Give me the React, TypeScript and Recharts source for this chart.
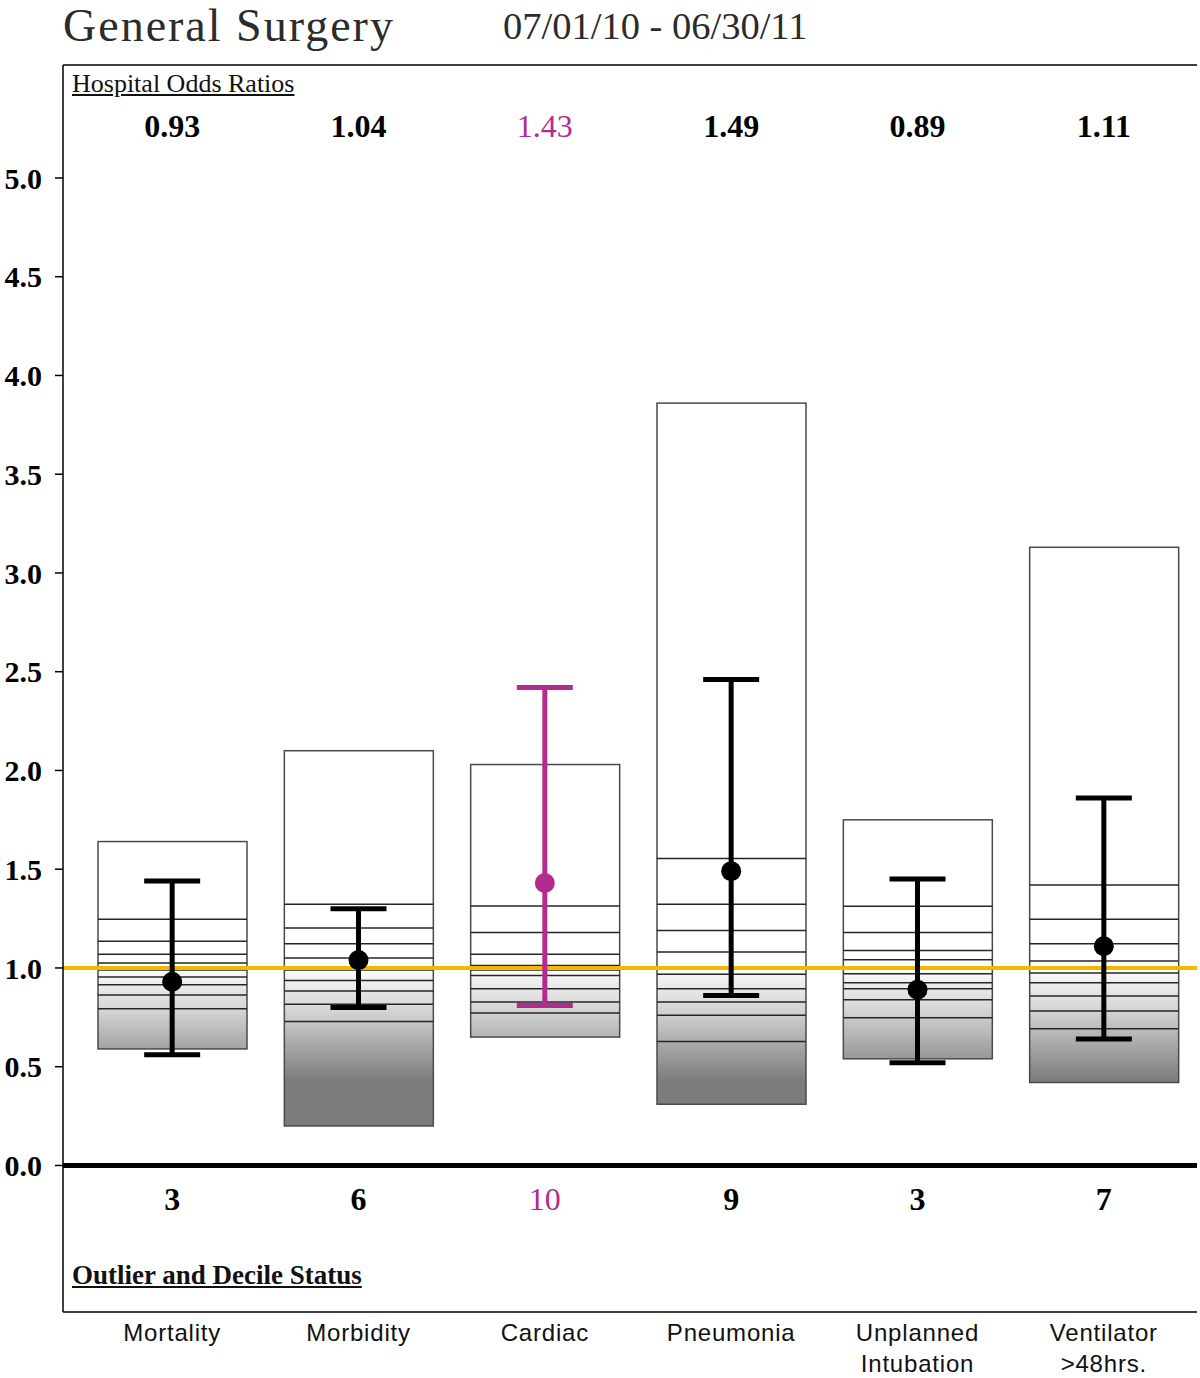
import {
    ComposedChart,
    Bar,
    Line,
    ErrorBar,
    XAxis,
    YAxis,
    ReferenceLine,
} from "recharts";

const categories = ["Mortality", "Morbidity", "Cardiac", "Pneumonia", "Unplanned Intubation", "Ventilator >48hrs."];
const categoryLines = [["Mortality"], ["Morbidity"], ["Cardiac"], ["Pneumonia"], ["Unplanned", "Intubation"], ["Ventilator", ">48hrs."]];

const oddsRatios = [0.93, 1.04, 1.43, 1.49, 0.89, 1.11];
const ciLow = [0.56, 0.8, 0.81, 0.86, 0.52, 0.64];
const ciHigh = [1.44, 1.3, 2.42, 2.46, 1.45, 1.86];

const boxLow = [0.59, 0.2, 0.65, 0.31, 0.54, 0.42];
const boxHigh = [1.64, 2.1, 2.03, 3.86, 1.75, 3.13];

const mortalityDeciles = [0.794, 0.863, 0.915, 0.954, 0.99, 1.025, 1.069, 1.135, 1.246];
const morbidityDeciles = [0.729, 0.816, 0.883, 0.937, 0.99, 1.05, 1.123, 1.202, 1.322];
const cardiacDeciles = [0.772, 0.828, 0.895, 0.962, 0.99, 1.013, 1.069, 1.179, 1.314];
const pneumoniaDeciles = [0.628, 0.76, 0.828, 0.895, 0.968, 1.081, 1.19, 1.322, 1.554];
const intubationDeciles = [0.748, 0.839, 0.895, 0.925, 0.971, 1.042, 1.089, 1.179, 1.312];
const ventilatorDeciles = [0.692, 0.782, 0.858, 0.925, 0.975, 1.035, 1.123, 1.246, 1.42];
const decileLines = [mortalityDeciles, morbidityDeciles, cardiacDeciles, pneumoniaDeciles, intubationDeciles, ventilatorDeciles];

const decileStatus = [3, 6, 10, 9, 3, 7];
const isOutlier = [false, false, true, false, false, false];

const yTicks = [0, 0.5, 1, 1.5, 2, 2.5, 3, 3.5, 4, 4.5, 5];

const SERIF = "'Liberation Serif', 'Times New Roman', serif";
const SANS = "'Liberation Sans', Arial, sans-serif";
const MAGENTA = "#b32b8f";
const ORANGE = "#f5b800";

const data = categories.map((name, i) => ({
    name,
    box: [boxLow[i], boxHigh[i]],
    deciles: decileLines[i],
    orNormal: isOutlier[i] ? null : oddsRatios[i],
    orOutlier: isOutlier[i] ? oddsRatios[i] : null,
    errNormal: isOutlier[i] ? null : [oddsRatios[i] - ciLow[i], ciHigh[i] - oddsRatios[i]],
    errOutlier: isOutlier[i] ? [oddsRatios[i] - ciLow[i], ciHigh[i] - oddsRatios[i]] : null,
}));

// gray shading runs from white at 1.0 down to dark gray at 0.43
const shadeTop = 1.0;
const shadeBottom = 0.43;

const BoxShape = (props: any) => {
    const { x, y, width, height, payload, index } = props;
    const [lo, hi] = payload.box;
    const top = Math.min(y, y + height);
    const h = Math.abs(height);
    const px = h / (hi - lo);
    const yOf = (v: number) => top + (hi - v) * px;
    const id = `boxShade${index}`;
    return (
        <g>
            <defs>
                <linearGradient id={id} gradientUnits="userSpaceOnUse" x1={0} x2={0} y1={yOf(shadeTop)} y2={yOf(shadeBottom)}>
                    <stop offset="0" stopColor="#ffffff" />
                    <stop offset="0.12" stopColor="#efefef" />
                    <stop offset="0.38" stopColor="#d4d4d4" />
                    <stop offset="0.7" stopColor="#a6a6a6" />
                    <stop offset="1" stopColor="#7c7c7c" />
                </linearGradient>
            </defs>
            <rect x={x} y={top} width={width} height={h} fill={`url(#${id})`} stroke="#4a4a4a" strokeWidth={1.5} />
            {payload.deciles.map((d: number) => (
                <line key={d} x1={x} x2={x + width} y1={yOf(d)} y2={yOf(d)} stroke="#262626" strokeWidth={1.5} />
            ))}
        </g>
    );
};

const BottomTick = (props: any) => {
    const { x, y, payload } = props;
    const i = categories.indexOf(payload.value);
    const out = isOutlier[i];
    return (
        <g>
            <text x={x} y={y - 102} textAnchor="middle" fontFamily={SERIF} fontSize={32}
                fontWeight={out ? "normal" : "bold"} fill={out ? MAGENTA : "#000"}>
                {decileStatus[i]}
            </text>
            {categoryLines[i].map((line, k) => (
                <text key={line} x={x} y={y + 29 + k * 31} textAnchor="middle" fontFamily={SANS}
                    fontSize={24} letterSpacing={0.8} fill="#111">
                    {line}
                </text>
            ))}
        </g>
    );
};

const TopTick = (props: any) => {
    const { x, y, payload } = props;
    const i = categories.indexOf(payload.value);
    const out = isOutlier[i];
    return (
        <text x={x} y={y + 72} textAnchor="middle" fontFamily={SERIF} fontSize={32}
            fontWeight={out ? "normal" : "bold"} fill={out ? MAGENTA : "#000"}>
            {oddsRatios[i].toFixed(2)}
        </text>
    );
};

const txt = (style: any) => ({ position: "absolute" as const, lineHeight: 1, whiteSpace: "nowrap" as const, ...style });

const App = () => {
    const domain = [-0.742, 5.572];
    return (
        <div style={{ position: "absolute", left: 0, top: 0, width: 1200, height: 1378, background: "#fff", overflow: "hidden" }}>
            <div style={txt({ left: 63, top: 3, fontFamily: SERIF, fontSize: 46, letterSpacing: 2, color: "#2b2b2b" })}>
                General Surgery
            </div>
            <div style={txt({ left: 503, top: 7, fontFamily: SERIF, fontSize: 38.5, color: "#2b2b2b" })}>
                07/01/10 - 06/30/11
            </div>

            <div style={{ position: "absolute", left: 0, top: 8 }}>
                <ComposedChart
                    width={1198}
                    height={1370}
                    data={data}
                    margin={{ top: 56, right: 1, bottom: 0, left: 8 }}
                >
                    <XAxis
                        dataKey="name"
                        height={66}
                        interval={0}
                        tickSize={0}
                        tickMargin={0}
                        padding={{ left: 16, right: 0 }}
                        tick={<BottomTick />}
                        axisLine={{ stroke: "#000", strokeWidth: 1.5 }}
                    />
                    <XAxis
                        xAxisId="top"
                        orientation="top"
                        dataKey="name"
                        height={1}
                        interval={0}
                        tickSize={0}
                        tickMargin={0}
                        padding={{ left: 16, right: 0 }}
                        tick={<TopTick />}
                        axisLine={{ stroke: "#000", strokeWidth: 1.5 }}
                    />
                    <YAxis
                        type="number"
                        width={55}
                        domain={domain}
                        ticks={yTicks}
                        allowDataOverflow
                        interval={0}
                        tickSize={8}
                        tickMargin={13}
                        tickFormatter={(v) => v.toFixed(1)}
                        tick={{ fontFamily: SERIF, fontSize: 30, fontWeight: "bold", fill: "#000" }}
                        tickLine={{ stroke: "#000", strokeWidth: 1.5 }}
                        axisLine={{ stroke: "#000", strokeWidth: 1.5 }}
                    />
                    <YAxis
                        yAxisId="r"
                        orientation="right"
                        type="number"
                        width={0}
                        domain={domain}
                        allowDataOverflow
                        tick={false}
                        tickLine={false}
                        axisLine={{ stroke: "#000", strokeWidth: 1.5 }}
                    />

                    <Bar dataKey="box" barSize={149} shape={<BoxShape />} isAnimationActive={false} />

                    <ReferenceLine y={1} stroke={ORANGE} strokeWidth={4} />
                    <ReferenceLine y={0} stroke="#000" strokeWidth={5} />

                    <Line
                        dataKey="orNormal"
                        stroke="none"
                        dot={{ r: 10, fill: "#000", stroke: "#000", strokeWidth: 0 }}
                        activeDot={false}
                        isAnimationActive={false}
                    >
                        <ErrorBar dataKey="errNormal" width={28} stroke="#000" strokeWidth={5} />
                    </Line>
                    <Line
                        dataKey="orOutlier"
                        stroke="none"
                        dot={{ r: 10, fill: MAGENTA, stroke: MAGENTA, strokeWidth: 0 }}
                        activeDot={false}
                        isAnimationActive={false}
                    >
                        <ErrorBar dataKey="errOutlier" width={28} stroke={MAGENTA} strokeWidth={5} />
                    </Line>
                </ComposedChart>
            </div>

            <div style={txt({ left: 72, top: 71, fontFamily: SERIF, fontSize: 26, color: "#111", textDecoration: "underline" })}>
                Hospital Odds Ratios
            </div>
            <div style={txt({ left: 72, top: 1262, fontFamily: SERIF, fontSize: 27, fontWeight: "bold", color: "#111", textDecoration: "underline" })}>
                Outlier and Decile Status
            </div>
        </div>
    );
};

export default App;
